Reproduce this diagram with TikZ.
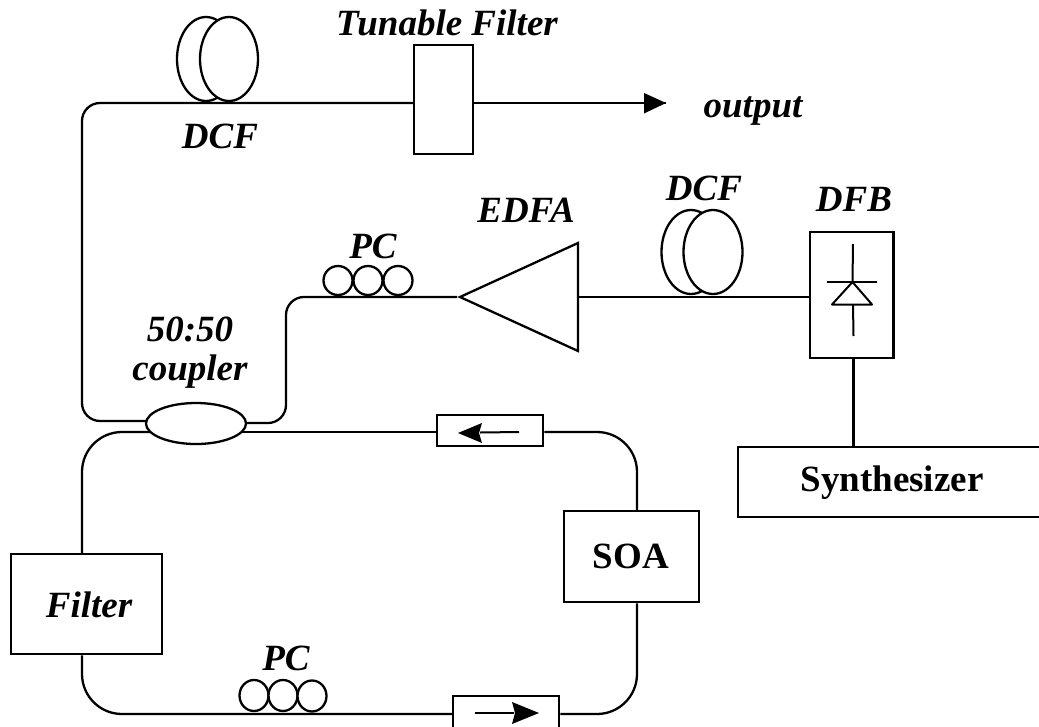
\documentclass[tikz,border=0pt]{standalone}
\usepackage{fontspec}
\setmainfont{Liberation Serif}
\usetikzlibrary{shapes.geometric}
\tikzset{
  x=1pt,y=-1pt,
  wire/.style={line width=2.3pt,line join=round},
  thin wire/.style={line width=2pt},
  box/.style={draw,line width=2.5pt,rectangle,inner sep=0pt},
  loopring/.style={draw,line width=2.3pt,fill=white,ellipse,inner sep=0pt},
  lab/.style={font=\fontsize{37}{40}\selectfont\bfseries\itshape,anchor=base,inner sep=0pt},
  labr/.style={font=\fontsize{37}{40}\selectfont\bfseries,anchor=base,inner sep=0pt},
  head/.style={fill=black,draw=none},
}
\begin{document}
\begin{tikzpicture}
\useasboundingbox (0,0) rectangle (1039,726);
\clip (0,0) rectangle (1039,726);
% boxes
\node[box,minimum width=59pt,minimum height=109pt] (tf) at (443.5,99.5) {};
\node[box,minimum width=83.5pt,minimum height=126pt] (dfb) at (851.75,295) {};
\node[box,minimum width=322pt,minimum height=70pt] (syn) at (899,482) {};
\node[box,minimum width=135pt,minimum height=91pt] (soa) at (631.5,556.5) {};
\node[box,minimum width=151pt,minimum height=100pt] (filt) at (86.5,604) {};
\node[box,minimum width=106pt,minimum height=31pt] (iso1) at (490,430.5) {};
\node[box,minimum width=106pt,minimum height=44pt] (iso2) at (506,718) {};
\node[draw,line width=2.3pt,fill=white,isosceles triangle,shape border rotate=180,isosceles triangle stretches,minimum width=108pt,minimum height=118pt,inner sep=0pt,anchor=apex] (edfa) at (457,297) {};
\coordinate (edfab) at (578,297);
\coordinate (cUL) at (150,421);
\coordinate (cUR) at (242,423);
\coordinate (cLL) at (150,432);
\coordinate (cLR) at (242,432);
\coordinate (outtip) at (666,103);
\coordinate (c1) at (82,103);
\coordinate (c2) at (82,421);
\coordinate (c3) at (286,423);
\coordinate (c4) at (286,297);
\coordinate (c5) at (82,432);
\coordinate (c6) at (637,432);
\coordinate (c7) at (82,714);
\coordinate (c8) at (637,714);
% wires
\draw[wire,rounded corners=18pt] (cUL) -- (c2) -- (c1) -- (tf.west |- c1);
\draw[wire] (tf.east |- outtip) -- (outtip);
\fill[head] (outtip) -- (644,93) -- (644,113.5) -- cycle;
\draw[wire,rounded corners=18pt] (cUR) -- (c3) -- (c4) -- (edfa.apex);
\draw[wire] (edfab) -- (dfb.west |- edfab);
\draw[wire,rounded corners=40pt] (cLL) -- (c5) -- (filt.north -| c5);
\draw[wire] (cLR) -- (iso1.west |- cLR);
\draw[wire,rounded corners=40pt] (iso1.east |- c6) -- (c6) -- (soa.north -| c6);
\draw[wire,rounded corners=40pt] (filt.south -| c7) -- (c7) -- (iso2.west |- c7);
\draw[wire,rounded corners=40pt] (iso2.east |- c8) -- (c8) -- (soa.south -| c8);
\coordinate (vl) at (853.5,400);
\draw[wire] (dfb.south -| vl) -- (syn.north -| vl);
% isolator arrows
\coordinate (a1s) at (519,432);\coordinate (a1t) at (458,433);
\draw[thin wire] (a1s) -- (480,432.5);
\fill[head] (a1t) -- (482,423) -- (479,433) -- (482,443) -- cycle;
\coordinate (a2s) at (475,713);\coordinate (a2t) at (539,713);
\draw[thin wire] (a2s) -- (514,713);
\fill[head] (a2t) -- (512,702) -- (515,713) -- (512,724) -- cycle;
% diode
\coordinate (dtop) at (853,244);\coordinate (dapex) at (852.5,282);
\coordinate (dbase) at (853,304.5);\coordinate (dbot) at (853.5,336);
\draw[thin wire] (dtop) -- (dapex);
\draw[thin wire] (827,281.5) -- (877,281.5);
\draw[thin wire,line join=round] (dapex) -- (832,304.5) -- (872,304.5) -- cycle;
\draw[thin wire] (dbase) -- (dbot);
% DCF spools
\node[loopring,minimum width=58pt,minimum height=84pt] (d1a) at (206,59) {};
\node[loopring,minimum width=58pt,minimum height=84pt] (d1b) at (229,59) {};
\node[loopring,minimum width=59pt,minimum height=84pt] (d2a) at (691,252) {};
\node[loopring,minimum width=59pt,minimum height=84pt] (d2b) at (713,252) {};
% PC rings
\node[loopring,minimum size=29pt] (p1) at (338,280.5) {};
\node[loopring,minimum size=29pt] (p2) at (368,280.5) {};
\node[loopring,minimum size=29pt] (p3) at (398,280.5) {};
\node[loopring,minimum width=29pt,minimum height=31pt] (q1) at (254,695.5) {};
\node[loopring,minimum width=29pt,minimum height=31pt] (q2) at (283,695.5) {};
\node[loopring,minimum width=29pt,minimum height=31pt] (q3) at (312,696) {};
% coupler
\node[loopring,minimum width=100pt,minimum height=41pt] (cp) at (196,423.5) {};
% labels
\node[lab] (t1) at (447,35) {Tunable Filter};
\node[lab] (t2) at (220,148) {DCF};
\node[lab] (t3) at (753,117) {output};
\node[lab] (t4) at (526,222) {EDFA};
\node[lab] (t5) at (704,200) {DCF};
\node[lab] (t6) at (854,211) {DFB};
\node[lab] (t7) at (373,258) {PC};
\node[lab] (t8) at (190,341) {50:50};
\node[lab] (t9) at (190,380) {coupler};
\node[lab] (t10) at (89,617) {Filter};
\node[lab] (t11) at (286,670) {PC};
\node[labr] (t12) at (892,491) {Synthesizer};
\node[labr] (t13) at (631,568) {SOA};
\end{tikzpicture}
\end{document}
